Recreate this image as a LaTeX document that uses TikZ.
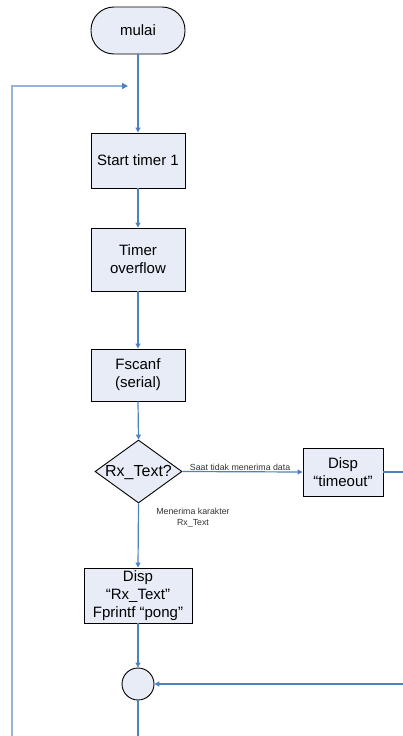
\documentclass[tikz,border=0pt]{standalone}
\usepackage{fontspec}
\setmainfont{Liberation Sans}
\usetikzlibrary{shapes.geometric,arrows.meta}
\definecolor{fillb}{HTML}{E7ECF7}
\definecolor{lineb}{HTML}{4F81BD}
\definecolor{loopb}{HTML}{95B3D7}
\begin{document}
\begin{tikzpicture}[x=1pt,y=-1pt,
  box/.style={draw=black,fill=fillb,line width=0.9pt,inner sep=0pt,align=center,font=\fontsize{15}{18}\selectfont},
  flow/.style={draw=lineb,line width=1.2pt,-{Triangle[length=5pt,width=5pt]}},
  plain/.style={draw=lineb,line width=1.2pt},
  loopline/.style={draw=loopb,line width=2pt,-{Triangle[length=6pt,width=6pt,color=lineb]}},
  small/.style={font=\fontsize{8.8}{10.5}\selectfont,text=black!80,align=center,inner sep=1pt}
]
\useasboundingbox (0,0) rectangle (403,736);

\node[box,rounded corners=23pt,minimum width=94pt,minimum height=47pt] (mulai) at (138,30.5) {mulai};
\node[box,minimum width=94pt,minimum height=55pt] (start) at (138,160.5) {Start timer 1};
\node[box,minimum width=94pt,minimum height=63pt] (timer) at (138,259.5) {Timer\\overflow};
\node[box,minimum width=94pt,minimum height=52pt] (fscanf) at (138,375) {Fscanf\\(serial)};
\node[draw=black,fill=fillb,line width=0.9pt,shape=diamond,inner sep=0pt,minimum width=87pt,minimum height=63pt] (dec) at (138.5,471.5) {};
\node[font=\fontsize{16}{18}\selectfont,inner sep=0pt] (dectext) at ([yshift=-1pt]dec.center) {Rx\_Text?};
\node[box,minimum width=80pt,minimum height=48pt] (tout) at (343,472) {Disp\\“timeout”};
\node[box,minimum width=108pt,minimum height=55pt] (disp) at (138,595.5) {Disp\\“Rx\_Text”\\Fprintf “pong”};
\node[draw=black,fill=fillb,line width=0.9pt,circle,inner sep=0pt,minimum size=32pt] (conn) at (138,684) {};

\coordinate (lb) at (12,736);
\coordinate (lt) at (12,86);
\coordinate (le) at (128,86);
\coordinate (tr) at (403,472);
\coordinate (cr) at (403,684);
\coordinate (cb) at (138,736);

\draw[flow] (mulai.south) -- (start.north);
\draw[loopline] (lb) -- (lt) -- (le);
\draw[flow] (start.south) -- (timer.north);
\draw[flow] (timer.south) -- (fscanf.north);
\draw[flow] (fscanf.south) -- (dec.north);
\draw[flow] (dec.east) -- node[small,above,pos=0.48] {Saat tidak menerima data} (tout.west);
\draw[plain] (tout.east) -- (tr);
\draw[flow] (dec.south) -- (disp.north);
\node[small] (lab2) at (193,517.5) {Menerima karakter\\Rx\_Text};
\draw[flow] (disp.south) -- (conn.north);
\draw[flow] (cr) -- (conn.east);
\draw[plain] (conn.south) -- (cb);
\end{tikzpicture}
\end{document}
